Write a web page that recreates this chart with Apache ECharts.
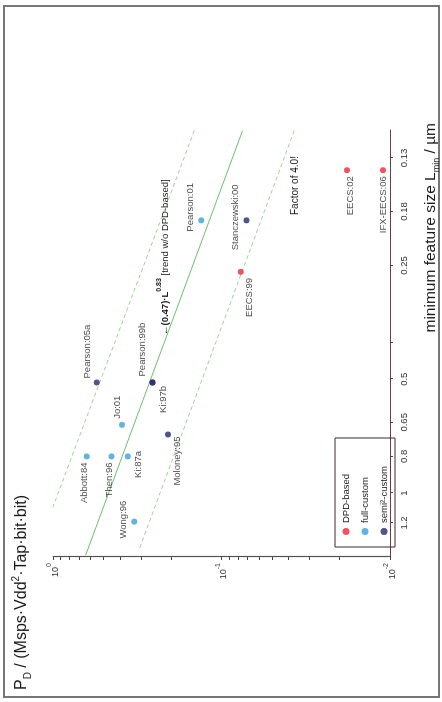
<!DOCTYPE html>
<html>
<head>
<meta charset="utf-8">
<script src="https://cdn.jsdelivr.net/npm/echarts@6/dist/echarts.min.js"></script>
<style>
html,body{margin:0;padding:0;background:#fff;overflow:hidden;width:442px;height:702px;}
#wrap{position:absolute;left:0;top:0;width:702px;height:442px;transform-origin:0 0;transform:translate(0px,702px) rotate(-90deg);background:#fff;}
#chart{width:702px;height:442px;}
</style>
</head>
<body>
<div id="wrap"><div id="chart"></div></div>
<script>
// ---- data ----
const dpdNames = ['EECS:99', 'EECS:02', 'IFX-EECS:06'];
const dpdL     = [0.26, 0.14, 0.14];
const dpdPd    = [0.077, 0.018, 0.011];

const fullNames = ['Abbott:84', 'Then:96', 'Ki:87a', 'Wong:96', 'Jo:01', 'Pearson:01'];
const fullL     = [0.80, 0.80, 0.80, 1.19, 0.66, 0.19];
const fullPd    = [0.63, 0.45, 0.36, 0.33, 0.39, 0.132];

const semiNames = ['Pearson:05a', 'Ki:97b', 'Pearson:99b', 'Moloney:95', 'Stanczewski:00'];
const semiL     = [0.51, 0.51, 0.51, 0.70, 0.19];
const semiPd    = [0.55, 0.257, 0.257, 0.208, 0.071];

// trend line and factor-of-2 band end points
const trendL  = [0.11, 1.46];
const trendPd = [0.075, 0.64];
const upperL  = [0.11, 1.10];
const upperPd = [0.145, 1.01];
const lowerL  = [0.11, 1.42];
const lowerPd = [0.037, 0.31];

// axis ticks
const featTickValues  = [1.2, 1, 0.8, 0.65, 0.5, 0.4, 0.25, 0.18, 0.13];
const featLabelValues = [1.2, 1, 0.8, 0.65, 0.5, 0.25, 0.18, 0.13];
const pdTickValues = [0.01,0.02,0.03,0.04,0.05,0.06,0.07,0.08,0.09,0.1,0.2,0.3,0.4,0.5,0.6,0.7,0.8,0.9,1];
const pdLabelValues = [0.01, 0.1, 1];

const legendNames = ['DPD-based', 'full-custom', 'semi²-custom'];

// ---- label placement (styling, kept separate from data) ----
const labelPlace = {
  'EECS:99':       {position:'left',   offset:[0, 9]},
  'EECS:02':       {position:'left',   offset:[0, 3]},
  'IFX-EECS:06':   {position:'left',   offset:[0, 0]},
  'Abbott:84':     {position:'left',   offset:[0, -2]},
  'Then:96':       {position:'left',   offset:[0, -2]},
  'Ki:87a':        {position:'bottom', offset:[-8, 0]},
  'Wong:96':       {position:'top',    offset:[2, 0]},
  'Jo:01':         {position:'right',  offset:[0, -5]},
  'Pearson:01':    {position:'top',    offset:[13, 0]},
  'Pearson:05a':   {position:'right',  offset:[-2, -9]},
  'Ki:97b':        {position:'bottom', offset:[-17, 0]},
  'Pearson:99b':   {position:'right',  offset:[0, -10]},
  'Moloney:95':    {position:'left',   offset:[4, 9]},
  'Stanczewski:00':{position:'top',    offset:[3, 0]}
};

function pts(names, L, Pd) {
  return names.map((n, i) => {
    const p = labelPlace[n] || {position:'right', offset:[0,0]};
    return {name: n, value: [L[i], Pd[i]],
      label: {show: true, position: p.position, offset: p.offset, distance: 3, formatter: n}};
  });
}
function line(L, Pd) { return L.map((v, i) => [v, Pd[i]]); }

const FONT = 'Liberation Sans, Arial, sans-serif';
const chart = echarts.init(document.getElementById('chart'), null, {width: 702, height: 442});

const scatterCommon = {
  type: 'scatter', symbolSize: 6, z: 5,
  label: {fontSize: 9.5, color: '#1a1a1a', fontFamily: FONT}
};

chart.setOption({
  animation: false,
  backgroundColor: '#fff',
  textStyle: {fontFamily: FONT},
  title: [
    {
      text: '{a|P}{sub|D}{a| / (Msps·Vdd}{sup|2}{a|·Tap·bit·bit)}',
      left: 7, top: 6,
      textStyle: {
        fontWeight: 'normal',
        rich: {
          a: {fontSize: 16, fontWeight: 'normal', color: '#1a1a1a', fontFamily: FONT, lineHeight: 22},
          sub: {fontSize: 10, fontWeight: 'normal', color: '#1a1a1a', fontFamily: FONT, verticalAlign: 'bottom', lineHeight: 17},
          sup: {fontSize: 10, fontWeight: 'normal', color: '#1a1a1a', fontFamily: FONT, verticalAlign: 'top', lineHeight: 20}
        }
      }
    },
    {
      text: '{a|minimum feature size L}{sub|min}{a| / µm}',
      right: 118, top: 416,
      textStyle: {
        fontWeight: 'normal',
        rich: {
          a: {fontSize: 15.5, fontWeight: 'normal', color: '#1a1a1a', fontFamily: FONT, lineHeight: 20},
          sub: {fontSize: 9, fontWeight: 'normal', color: '#1a1a1a', fontFamily: FONT, verticalAlign: 'bottom', lineHeight: 15}
        }
      }
    }
  ],
  legend: {
    orient: 'vertical',
    left: 155, top: 335,
    data: legendNames,
    icon: 'circle',
    itemWidth: 7, itemHeight: 7, itemGap: 9,
    padding: [6, 28, 6, 12],
    borderColor: '#3a2a30', borderWidth: 1,
    textStyle: {fontSize: 9.5, color: '#1a1a1a', fontFamily: FONT}
  },
  grid: {left: 145, right: 130, top: 53, bottom: 52, containLabel: false},
  xAxis: {
    type: 'log', logBase: 10, min: 0.1096, max: 1.476, inverse: true,
    axisLine: {show: true, lineStyle: {color: '#6b3a48', width: 1.2}},
    axisTick: {show: true, length: 3, customValues: featTickValues, lineStyle: {color: '#444'}},
    axisLabel: {show: true, customValues: featLabelValues, fontSize: 9.5, color: '#333', margin: 9,
      formatter: v => String(+(+v).toFixed(2))},
    splitLine: {show: false}, minorTick: {show: false}
  },
  yAxis: {
    type: 'log', logBase: 10, min: 0.01, max: 1,
    axisLine: {show: true, lineStyle: {color: '#555', width: 1.2}},
    axisTick: {show: true, length: 3, customValues: pdTickValues, lineStyle: {color: '#444'}},
    axisLabel: {show: true, customValues: pdLabelValues, margin: 6,
      formatter: v => '{b|10}{s|' + Math.round(Math.log10(v)) + '}',
      rich: {
        b: {fontSize: 9, color: '#333', fontFamily: FONT, lineHeight: 14, verticalAlign: 'bottom'},
        s: {fontSize: 7, color: '#333', fontFamily: FONT, lineHeight: 14, verticalAlign: 'top'}
      }
    },
    splitLine: {show: false}, minorTick: {show: false}
  },
  series: [
    {type: 'line', name: 'trend', data: line(trendL, trendPd), showSymbol: false, symbol: 'none', z: 2,
      lineStyle: {color: '#6cc06c', width: 1}, clip: true, silent: true},
    {type: 'line', name: 'upper', data: line(upperL, upperPd), showSymbol: false, symbol: 'none', z: 2,
      lineStyle: {color: '#9ad49a', width: 1, type: [4, 3]}, clip: true, silent: true},
    {type: 'line', name: 'lower', data: line(lowerL, lowerPd), showSymbol: false, symbol: 'none', z: 2,
      lineStyle: {color: '#9ad49a', width: 1, type: [4, 3]}, clip: true, silent: true},
    Object.assign({}, scatterCommon, {name: legendNames[0], itemStyle: {color: '#e8283a'}, data: pts(dpdNames, dpdL, dpdPd)}),
    Object.assign({}, scatterCommon, {name: legendNames[1], itemStyle: {color: '#3e9fd2'}, data: pts(fullNames, fullL, fullPd)}),
    Object.assign({}, scatterCommon, {name: legendNames[2], itemStyle: {color: '#26296e'}, data: pts(semiNames, semiL, semiPd)})
  ],
  graphic: [
    {type: 'rect', silent: true, z: 0,
      shape: {x: 5, y: 4, width: 691, height: 435},
      style: {fill: 'none', stroke: '#777', lineWidth: 2}},
    {type: 'text', silent: true, z: 10, x: 367, y: 163,
      style: {
        text: '{bold|←(0.47)·L}{sup|0.83}{n| [trend w/o DPD-based]}',
        verticalAlign: 'middle',
        rich: {
          bold: {fontSize: 9.5, fontWeight: 'bold', fill: '#1a1a1a', fontFamily: FONT, lineHeight: 14, verticalAlign: 'bottom'},
          sup: {fontSize: 7, fontWeight: 'bold', fill: '#1a1a1a', fontFamily: FONT, lineHeight: 14, verticalAlign: 'top'},
          n: {fontSize: 9.5, fill: '#1a1a1a', fontFamily: FONT, lineHeight: 14, verticalAlign: 'bottom'}
        }
      }},
    {type: 'text', silent: true, z: 10, x: 487, y: 295,
      style: {text: 'Factor of 4.0!', fontSize: 10, fill: '#1a1a1a', fontFamily: FONT, verticalAlign: 'middle'}}
  ]
});
</script>
</body>
</html>
